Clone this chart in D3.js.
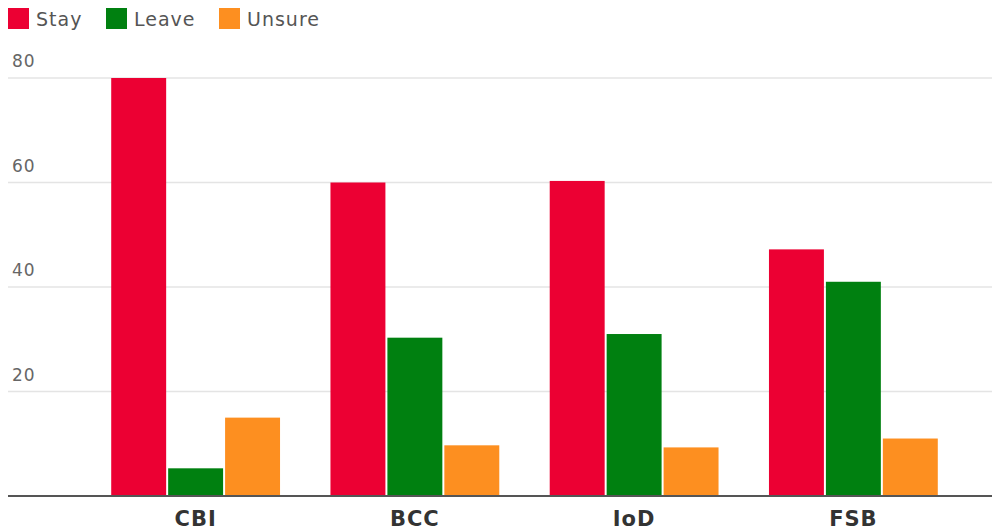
<!DOCTYPE html>
<html>
<head>
<meta charset="utf-8">
<script src="https://cdn.jsdelivr.net/npm/d3@7"></script>
<style>
  body { margin: 0; background: #fff; }
  svg { display: block; font-family: "DejaVu Sans", sans-serif; }
</style>
</head>
<body>
<svg id="chart" width="992" height="532"></svg>
<script>
let groups = ["CBI", "BCC", "IoD", "FSB"];
let seriesNames = ["Stay", "Leave", "Unsure"];
let stayValues = [80, 60, 60.3, 47.2];
let leaveValues = [5.3, 30.3, 31, 41];
let unsureValues = [15, 9.7, 9.3, 11];
let yTicks = [20, 40, 60, 80];
let seriesColors = ["#ec0033", "#008010", "#fd8f20"];

let allValues = [stayValues, leaveValues, unsureValues];

let svg = d3.select("#chart");
let width = +svg.attr("width");
let height = +svg.attr("height");
let pad = {t: 78, r: 29, b: 36, l: 86};
let gridLeft = 8;

let x0 = d3.scaleBand().domain(groups).range([pad.l, width - pad.r]).paddingInner(0.23).paddingOuter(0.115);
let x1 = d3.scaleBand().domain(seriesNames).range([0, x0.bandwidth()]).paddingInner(0.035);
let y = d3.scaleLinear().domain([0, 80]).range([height - pad.b, pad.t]);

// gridlines
svg.append("g")
    .selectAll("line")
    .data(yTicks)
    .enter()
    .append("line")
    .attr("x1", gridLeft)
    .attr("x2", width)
    .attr("y1", d => y(d))
    .attr("y2", d => y(d))
    .attr("stroke", "#e4e4e4")
    .attr("stroke-width", 1.5);

// y tick labels, above the lines
svg.append("g")
    .selectAll("text")
    .data(yTicks)
    .enter()
    .append("text")
    .attr("x", 12)
    .attr("y", d => y(d) - 11)
    .attr("fill", "#666")
    .attr("font-size", "17px")
    .attr("letter-spacing", "1px")
    .text(d => d);

// bars
let barGroups = svg.append("g")
    .selectAll("g")
    .data(groups)
    .enter()
    .append("g")
    .attr("transform", d => "translate(" + x0(d) + ",0)");

barGroups.selectAll("rect")
    .data((g, gi) => seriesNames.map((s, si) => ({series: s, value: allValues[si][gi], color: seriesColors[si]})))
    .enter()
    .append("rect")
    .attr("x", d => x1(d.series))
    .attr("width", x1.bandwidth())
    .attr("y", d => y(d.value))
    .attr("height", d => y(0) - y(d.value))
    .attr("fill", d => d.color);

// baseline
svg.append("line")
    .attr("x1", gridLeft)
    .attr("x2", width)
    .attr("y1", y(0))
    .attr("y2", y(0))
    .attr("stroke", "#555")
    .attr("stroke-width", 2);

// x axis labels
let xAxis = d3.axisBottom(x0).tickSize(0).tickPadding(15);
let xAxisG = svg.append("g")
    .attr("transform", "translate(0," + y(0) + ")")
    .call(xAxis);
xAxisG.select(".domain").remove();
xAxisG.selectAll("text")
    .attr("font-family", "\"DejaVu Sans\", sans-serif")
    .attr("font-size", "21px")
    .attr("font-weight", "bold")
    .attr("letter-spacing", "1px")
    .attr("fill", "#333");

// legend
let legendX = [8, 106, 219];
let legend = svg.append("g")
    .selectAll("g")
    .data(seriesNames)
    .enter()
    .append("g")
    .attr("transform", (d, i) => "translate(" + legendX[i] + ",8)");

legend.append("rect")
    .attr("width", 21)
    .attr("height", 21)
    .attr("fill", (d, i) => seriesColors[i]);

legend.append("text")
    .attr("x", 28)
    .attr("y", 18)
    .attr("fill", "#555")
    .attr("font-size", "19px")
    .attr("letter-spacing", "1px")
    .text(d => d);
</script>
</body>
</html>
